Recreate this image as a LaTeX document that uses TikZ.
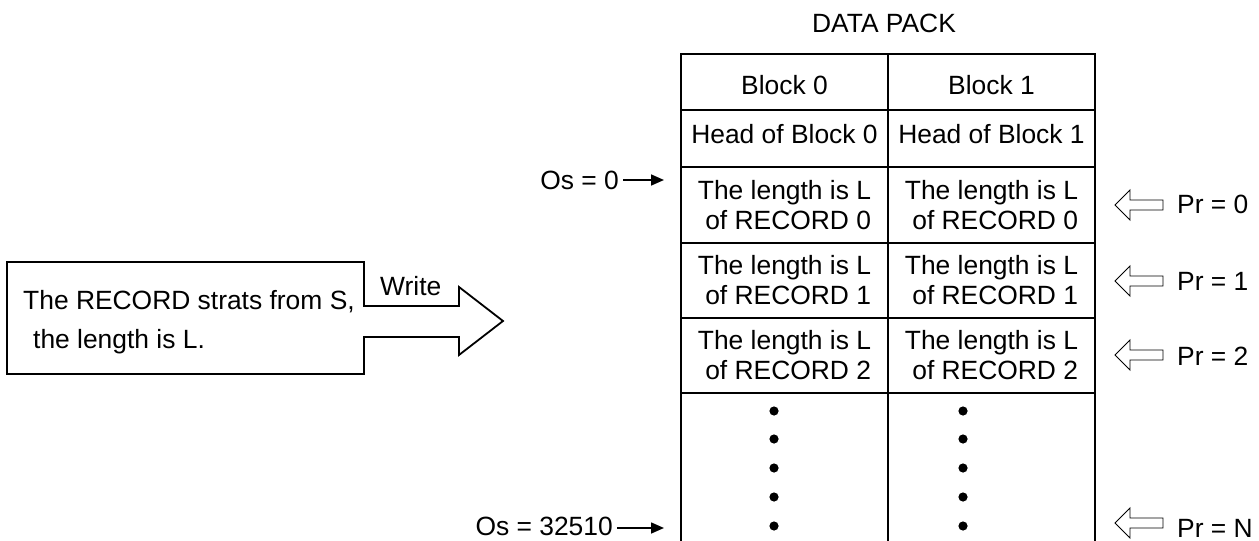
\documentclass[tikz,border=0pt]{standalone}
\usepackage{fontspec}
\setmainfont{Liberation Sans}
\usetikzlibrary{arrows.meta}
\begin{document}
\begin{tikzpicture}[x=1pt,y=-1pt,
  every node/.style={font=\fontsize{26.4}{30}\selectfont, inner sep=0pt},
  cell/.style={draw, line width=1.8pt, minimum width=207pt, inner sep=0pt, align=right},
  outline/.style={draw, line width=1.8pt, line join=miter},
  hollow/.style={draw, line width=0.9pt, line join=miter},
  osarrow/.style={line width=1.6pt, -{Triangle[length=13pt,width=11pt]}},
  oslabel/.style={anchor=base east, inner xsep=4pt},
  prlabel/.style={anchor=base west}]
\useasboundingbox (0,0) rectangle (1259,541);

% title
\node[anchor=base] (title) at (884,32) {DATA PACK};

% table
\node[cell, minimum height=56pt, text height=24pt, text depth=0pt] (b0) at (784.5,82) {Block 0};
\node[cell, minimum height=56pt, text height=24pt, text depth=0pt] (b1) at (991.5,82) {Block 1};
\node[cell, minimum height=57pt, text height=19pt, text depth=10pt] (h0) at (784.5,138.5) {Head of Block 0};
\node[cell, minimum height=57pt, text height=19pt, text depth=10pt] (h1) at (991.5,138.5) {Head of Block 1};
\node[cell, minimum height=76pt] (r00) at (784.5,205) {The length is L\\ of RECORD 0};
\node[cell, minimum height=76pt] (r01) at (991.5,205) {The length is L\\ of RECORD 0};
\node[cell, minimum height=75pt] (r10) at (784.5,280.5) {The length is L\\ of RECORD 1};
\node[cell, minimum height=75pt] (r11) at (991.5,280.5) {The length is L\\ of RECORD 1};
\node[cell, minimum height=75pt] (r20) at (784.5,355.5) {The length is L\\ of RECORD 2};
\node[cell, minimum height=75pt] (r21) at (991.5,355.5) {The length is L\\ of RECORD 2};
\node[cell, minimum height=170pt] (d0) at (784.5,478) {};
\node[cell, minimum height=170pt] (d1) at (991.5,478) {};
\foreach \yy in {411,439,468,497,526}{
  \fill (774,\yy) circle (4.6pt);
  \fill (963,\yy) circle (4.6pt);
}

% offsets
\node[oslabel] (os0) at (623,189) {Os = 0};
\coordinate (os0tip) at (664,180);
\draw[osarrow] (os0tip -| os0.east) -- (os0tip);
\node[oslabel] (os1) at (617,535) {Os = 32510};
\coordinate (os1tip) at (664,528);
\draw[osarrow] (os1tip -| os1.east) -- (os1tip);

% pointers
\foreach \c/\b/\n in {205/213/0, 281/290/1, 355/365/2, 523/537/N}{
  \draw[hollow] (1115,\c) -- (1130,{\c-15}) -- (1130,{\c-5}) -- (1163,{\c-5})
    -- (1163,{\c+5}) -- (1130,{\c+5}) -- (1130,{\c+15}) -- cycle;
  \node[prlabel] (pr\n) at (1177,\b) {Pr = \n};
}

% record box with write arrow
\draw[outline] (7,262) -- (364,262) -- (364,306) -- (459,306) -- (459,287)
  -- (503,321) -- (459,355) -- (459,337) -- (364,337) -- (364,374) -- (7,374) -- cycle;
\node[anchor=base west] (rec1) at (23,309) {The RECORD strats from S,};
\node[anchor=base west] (rec2) at (33,348) {the length is L.};
\node[anchor=base west] (write) at (380,295) {Write};
\end{tikzpicture}
\end{document}
